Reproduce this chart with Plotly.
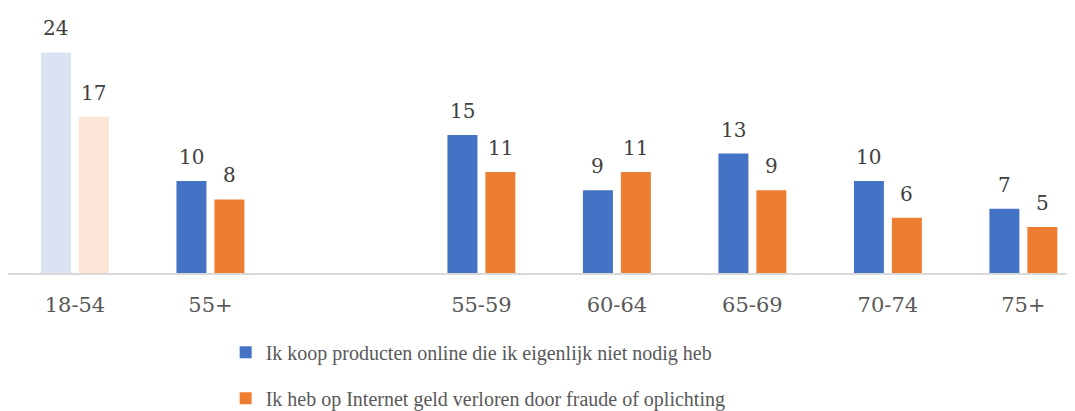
import plotly.graph_objects as go

categories = ["18-54", "55+", " ", "55-59", "60-64", "65-69", "70-74", "75+"]
series1_name = "Ik koop producten online die ik eigenlijk niet nodig heb"
series2_name = "Ik heb op Internet geld verloren door fraude of oplichting"
series1 = [24, 10, None, 15, 9, 13, 10, 7]
series2 = [17, 8, None, 11, 11, 9, 6, 5]
faded_categories = ["18-54"]

blue, orange = "#4472C4", "#ED7D31"
blue_light, orange_light = "#DAE3F3", "#FBE5D6"

num_font = "DejaVu Serif, serif"
txt_font = "Liberation Serif, DejaVu Serif, serif"

# page has an 8px body margin, so the figure is 8px smaller than the window
W, H = 1067, 403


def split(vals, faded):
    xs, ys = [], []
    for c, v in zip(categories, vals):
        if v is None:
            continue
        if (c in faded_categories) == faded:
            xs.append(c); ys.append(v)
    return xs, ys


fig = go.Figure()
for vals, name, col, col_l, grp in [
    (series1, series1_name, blue, blue_light, "a"),
    (series2, series2_name, orange, orange_light, "b"),
]:
    xf, yf = split(vals, True)
    xn, yn = split(vals, False)
    common = dict(marker_line_width=0, offsetgroup=grp)
    fig.add_trace(go.Bar(x=xf, y=yf, marker_color=col_l, showlegend=False,
                         hoverinfo="skip", **common))
    fig.add_trace(go.Bar(x=xn, y=yn, name=name, marker_color=col,
                         legendgroup=grp, **common))

# data labels above each bar (bar slot is 38px wide -> centres at +/-19px)
for vals, dx in [(series1, -19), (series2, 19)]:
    for c, v in zip(categories, vals):
        if v is None:
            continue
        fig.add_annotation(x=c, y=v, text=str(v), showarrow=False,
                           xshift=dx, yshift=10, yanchor="bottom",
                           font=dict(size=20, color="#404040", family=num_font))

fig.update_layout(
    width=W, height=H,
    margin=dict(l=0, r=0, t=26, b=138, autoexpand=False),
    paper_bgcolor="white", plot_bgcolor="white",
    barmode="group", bargap=0.44, bargroupgap=0.21,
    font=dict(family=txt_font, color="#595959", size=20),
    showlegend=True,
    legend=dict(orientation="v", x=0.204, xanchor="left", yref="container",
                y=0.194, yanchor="top",
                font=dict(size=20, color="#595959", family=txt_font),
                tracegroupgap=17, itemwidth=30),
    xaxis=dict(type="category", categoryorder="array", categoryarray=categories,
               range=[-0.494, 7.381], showline=True, linecolor="#D9D9D9",
               linewidth=1.5, ticks="", showgrid=False, ticklabelstandoff=12,
               automargin=False,
               tickfont=dict(size=21, color="#595959", family=num_font)),
    yaxis=dict(range=[0, 26], visible=False, showgrid=False, automargin=False),
)

fig.write_html("out.html")
